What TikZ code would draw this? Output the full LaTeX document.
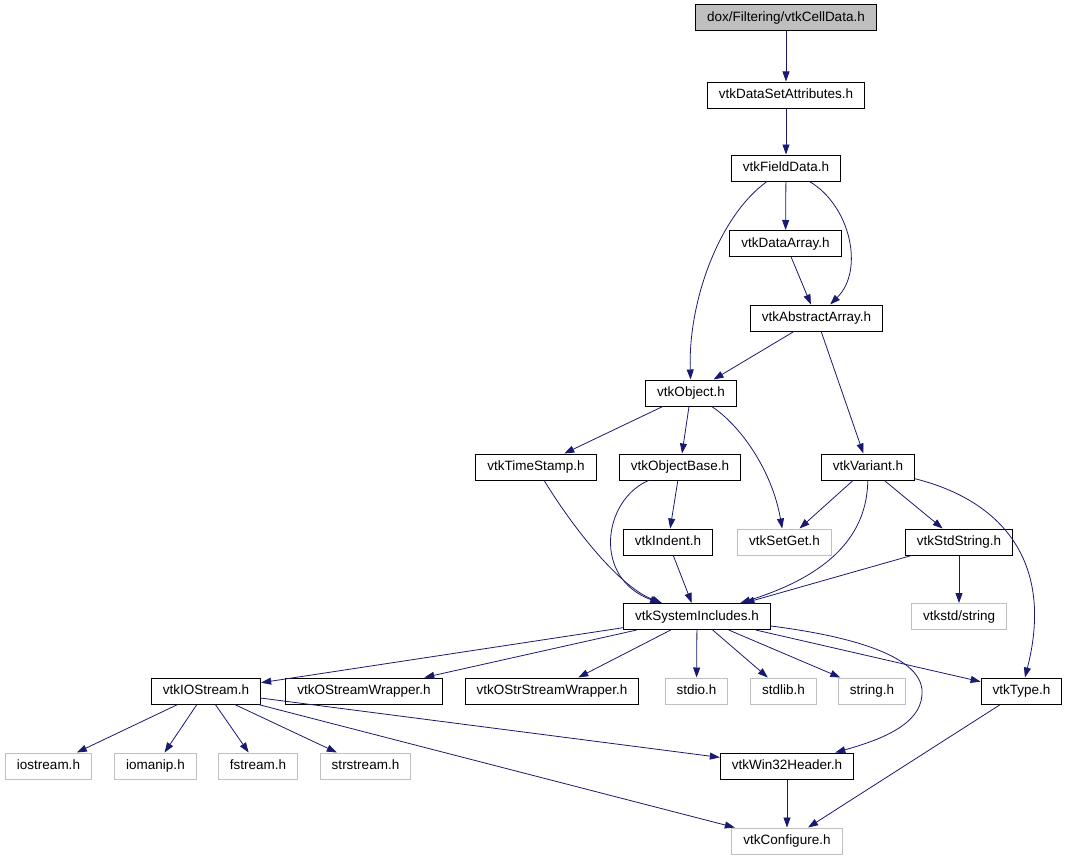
\documentclass[tikz,border=0pt]{standalone}
\usepackage{fontspec}
\setmainfont{Liberation Sans}
\usetikzlibrary{arrows.meta}
\definecolor{depblue}{HTML}{191970}
\definecolor{sysgray}{HTML}{BFBFBF}

\begin{document}
\begin{tikzpicture}[x=1pt,y=-1pt,
  file/.style={draw=black,line width=1pt,inner xsep=11.5pt,minimum height=26pt,
    text height=10pt,text depth=2.5pt,font=\fontsize{13.5}{16}\selectfont},
  sysfile/.style={file,draw=sysgray},
  dep/.style={draw=depblue,line width=0.8pt,-{Triangle[length=10pt,width=7pt,fill=depblue]}}]
  \useasboundingbox (0,0) rectangle (1068,859);

  \node[file,fill=sysgray] (cell) at (786,18) {dox/Filtering/vtkCellData.h};
  \node[file] (dsa) at (786,95) {vtkDataSetAttributes.h};
  \node[file] (field) at (786,168) {vtkFieldData.h};
  \node[file] (darr) at (785.5,243.5) {vtkDataArray.h};
  \node[file] (aarr) at (816.5,318) {vtkAbstractArray.h};
  \node[file] (obj) at (691,393) {vtkObject.h};
  \node[file] (tstamp) at (536,467) {vtkTimeStamp.h};
  \node[file] (obase) at (680,467) {vtkObjectBase.h};
  \node[file] (variant) at (868,467) {vtkVariant.h};
  \node[sysfile] (setget) at (784.5,542) {vtkSetGet.h};
  \node[file] (indent) at (668,542) {vtkIndent.h};
  \node[file] (stdstr) at (959,542) {vtkStdString.h};
  \node[file] (sysinc) at (697,616.5) {vtkSystemIncludes.h};
  \node[sysfile] (stdstring) at (959,616.5) {vtkstd/string};
  \node[file] (iostr) at (206,691) {vtkIOStream.h};
  \node[file] (osw) at (364,691) {vtkOStreamWrapper.h};
  \node[file] (ossw) at (552,691) {vtkOStrStreamWrapper.h};
  \node[sysfile] (stdio) at (696.5,691) {stdio.h};
  \node[sysfile] (stdlib) at (783.5,691) {stdlib.h};
  \node[sysfile] (stringh) at (872,691) {string.h};
  \node[file] (type) at (1021.5,691) {vtkType.h};
  \node[sysfile] (iostream) at (48.5,766) {iostream.h};
  \node[sysfile] (iomanip) at (155.5,766) {iomanip.h};
  \node[sysfile] (fstream) at (258,766) {fstream.h};
  \node[sysfile] (strstream) at (365.5,766) {strstream.h};
  \node[file] (win32) at (787,766) {vtkWin32Header.h};
  \node[sysfile] (config) at (787,841) {vtkConfigure.h};

  \draw[dep] (cell) -- (dsa);
  \draw[dep] (dsa) -- (field);
  \draw[dep] (field) -- (darr);
  \draw[dep] (field) .. controls (850,205) and (865,270) .. (aarr);
  \draw[dep] (field) .. controls (720,215) and (688,300) .. (obj);
  \draw[dep] (darr) -- (aarr);
  \draw[dep] (aarr) -- (obj);
  \draw[dep] (aarr) -- (variant);
  \draw[dep] (obj) -- (tstamp);
  \draw[dep] (obj) -- (obase);
  \draw[dep] (obj) .. controls (740,425) and (772,470) .. (setget);
  \draw[dep] (variant) -- (setget);
  \draw[dep] (variant) .. controls (867,535) and (830,575) .. (sysinc);
  \draw[dep] (variant) -- (stdstr);
  \draw[dep] (variant) .. controls (1000,500) and (1055,560) .. (type);
  \draw[dep] (tstamp) .. controls (565,515) and (615,585) .. (sysinc);
  \draw[dep] (obase) -- (indent);
  \draw[dep] (obase) .. controls (603,500) and (592,578) .. (sysinc);
  \draw[dep] (indent) -- (sysinc);
  \draw[dep] (stdstr) -- (sysinc);
  \draw[dep] (stdstr) -- (stdstring);
  \foreach \t in {iostr,osw,ossw,stdio,stdlib,stringh,type}
    \draw[dep] (sysinc) -- (\t);
  \draw[dep] (sysinc) .. controls (880,640) and (925,665) .. (922,695)
    .. controls (920,725) and (880,740) .. (win32);
  \foreach \t in {iostream,iomanip,fstream,strstream,win32,config}
    \draw[dep] (iostr) -- (\t);
  \draw[dep] (win32) -- (config);
  \draw[dep] (type) -- (config);
\end{tikzpicture}
\end{document}
